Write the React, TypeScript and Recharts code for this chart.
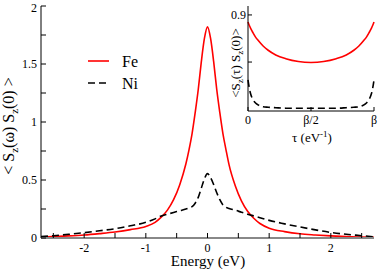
import { LineChart, Line, XAxis, YAxis, CartesianGrid, Legend } from 'recharts'

const FONT = "'Liberation Serif', 'Times New Roman', serif"

// main panel: spectral function vs energy
const energy = [
  -2.7, -2.5, -2.25, -2, -1.75, -1.5, -1.25, -1, -0.85, -0.75, -0.65, -0.55, -0.45, -0.35, -0.3, -0.25, -0.2,
  -0.15, -0.1, -0.05, 0, 0.05, 0.1, 0.15, 0.2, 0.25, 0.3, 0.35, 0.45, 0.55, 0.65, 0.75, 0.85, 1, 1.25, 1.5,
  1.75, 2, 2.25, 2.5, 2.7,
]
const feOmega = [
  0.008, 0.012, 0.018, 0.026, 0.038, 0.052, 0.072, 0.1, 0.135, 0.18, 0.24, 0.33, 0.46, 0.64, 0.76, 0.9, 1.08,
  1.28, 1.52, 1.72, 1.82, 1.72, 1.52, 1.28, 1.08, 0.9, 0.76, 0.63, 0.45, 0.32, 0.23, 0.17, 0.125, 0.085, 0.055,
  0.036, 0.026, 0.018, 0.012, 0.008, 0.005,
]
const niOmega = [
  0.012, 0.02, 0.032, 0.046, 0.062, 0.08, 0.105, 0.135, 0.165, 0.19, 0.205, 0.22, 0.235, 0.25, 0.26, 0.27, 0.3,
  0.35, 0.43, 0.51, 0.555, 0.52, 0.46, 0.39, 0.33, 0.285, 0.265, 0.255, 0.24, 0.222, 0.205, 0.19, 0.175, 0.152,
  0.122, 0.095, 0.07, 0.048, 0.032, 0.02, 0.01,
]
const energyTicks = [-2.5, -2, -1.5, -1, -0.5, 0, 0.5, 1, 1.5, 2, 2.5]
const sTicks = [0, 0.25, 0.5, 0.75, 1, 1.25, 1.5, 1.75, 2]

// inset: imaginary-time correlator
const tau = [0, 0.01, 0.02, 0.04, 0.06, 0.08, 0.12, 0.16, 0.22, 0.3, 0.4, 0.5, 0.6, 0.7, 0.78, 0.84, 0.88, 0.92, 0.94, 0.96, 0.98, 0.99, 1]
const feTau = [
  0.885, 0.878, 0.872, 0.862, 0.853, 0.846, 0.834, 0.825, 0.815, 0.807, 0.801, 0.799, 0.801, 0.807, 0.815,
  0.825, 0.834, 0.846, 0.853, 0.862, 0.872, 0.878, 0.885,
]
const niTau = [
  0.762, 0.745, 0.733, 0.72, 0.713, 0.709, 0.705, 0.704, 0.703, 0.702, 0.702, 0.702, 0.702, 0.702, 0.703,
  0.704, 0.705, 0.709, 0.713, 0.72, 0.733, 0.745, 0.762,
]
const tauTicks = [0, 0.5, 1]
const tauLabels = ['0', 'β/2', 'β']
const insetTicks = [0.8, 0.9]

const series = [
  { key: 'fe', name: 'Fe', color: '#ff0000', dash: undefined },
  { key: 'ni', name: 'Ni', color: '#000000', dash: '7 4' },
]

const mainData = energy.map((e, i) => ({ energy: e, fe: feOmega[i], ni: niOmega[i] }))
const insetData = tau.map((t, i) => ({ tau: t, fe: feTau[i], ni: niTau[i] }))

const fmtEnergy = (v: number) => (Number.isInteger(v) ? String(v) : '')
const fmtS = (v: number) => (v * 2 === Math.round(v * 2) ? String(v) : '')

const MainYLabel = () => (
  <text x={14} y={126} transform="rotate(-90, 14, 126)" textAnchor="middle" fontFamily={FONT} fontSize={16} fill="#000">
    {'< S'}
    <tspan fontSize={11} dy={4}>z</tspan>
    <tspan dy={-4}>{'(ω) S'}</tspan>
    <tspan fontSize={11} dy={4}>z</tspan>
    <tspan dy={-4}>{'(0) >'}</tspan>
  </text>
)

const InsetYLabel = () => (
  <text x={20} y={63} transform="rotate(-90, 20, 63)" textAnchor="middle" fontFamily={FONT} fontSize={13} fill="#000">
    {'<S'}
    <tspan fontSize={9} dy={3}>z</tspan>
    <tspan dy={-3}>{'(τ) S'}</tspan>
    <tspan fontSize={9} dy={3}>z</tspan>
    <tspan dy={-3}>{'(0)>'}</tspan>
  </text>
)

const TauLabel = () => (
  <text x={92} y={142} textAnchor="middle" fontFamily={FONT} fontSize={13} fill="#000">
    {'τ  (eV'}
    <tspan fontSize={9} dy={-5}>-1</tspan>
    <tspan dy={5}>)</tspan>
  </text>
)

const EnergyLabel = () => (
  <text x={208} y={266} textAnchor="middle" fontFamily={FONT} fontSize={15} fill="#000">
    Energy (eV)
  </text>
)

const renderLegend = () => (
  <svg width={110} height={44} style={{ overflow: 'visible', display: 'block' }}>
    {series.map((s, i) => (
      <g key={s.key}>
        <line x1={0} x2={21} y1={6 + 22 * i} y2={6 + 22 * i} stroke={s.color} strokeWidth={1.6} strokeDasharray={s.dash} />
        <text x={34} y={11.5 + 22 * i} fontFamily={FONT} fontSize={16} fill="#000">
          {s.name}
        </text>
      </g>
    ))}
  </svg>
)

const tickStyle = { fontSize: 12, fill: '#000', stroke: 'none', fontFamily: FONT }
const dark = { stroke: '#000' }

export default function App() {
  return (
    <div style={{ position: 'absolute', left: 0, top: 0, width: 382, height: 270, background: '#fff', fontFamily: FONT }}>
      <LineChart width={382} height={270} data={mainData} margin={{ top: 6, right: 8, bottom: 0, left: 0 }}>
        <XAxis
          xAxisId="b"
          dataKey="energy"
          type="number"
          domain={[-2.7, 2.7]}
          allowDataOverflow
          ticks={energyTicks}
          tickFormatter={fmtEnergy}
          tick={tickStyle}
          tickLine={dark}
          tickSize={-5}
          tickMargin={10}
          height={32}
          axisLine={{ stroke: '#888', strokeWidth: 2 }}
          label={<EnergyLabel />}
        />
        <XAxis xAxisId="t" orientation="top" type="number" domain={[-2.7, 2.7]} allowDataOverflow ticks={energyTicks} tick={false} tickLine={dark} axisLine={dark} tickSize={-5} height={0} />
        <YAxis
          yAxisId="l"
          type="number"
          domain={[0, 2]}
          ticks={sTicks}
          tickFormatter={fmtS}
          tick={tickStyle}
          tickLine={dark}
          axisLine={dark}
          tickSize={-5}
          tickMargin={9}
          width={41}
          label={<MainYLabel />}
        />
        <YAxis yAxisId="r" orientation="right" type="number" domain={[0, 2]} ticks={sTicks} tick={false} tickLine={dark} axisLine={dark} tickSize={-5} width={0} />
        <Legend
          content={renderLegend}
          layout="horizontal"
          verticalAlign="middle"
          align="center"
          wrapperStyle={{ position: 'absolute', left: 88, top: 55, width: 110, height: 44 }}
        />
        {series.map((s) => (
          <Line
            key={s.key}
            xAxisId="b"
            yAxisId="l"
            type="monotone"
            dataKey={s.key}
            name={s.name}
            stroke={s.color}
            strokeWidth={1.6}
            strokeDasharray={s.dash}
            dot={false}
            isAnimationActive={false}
          />
        ))}
      </LineChart>
      <div style={{ position: 'absolute', left: 220, top: 0 }}>
        <LineChart width={162} height={145} data={insetData} margin={{ top: 6, right: 8, bottom: 0, left: 0 }}>
          <CartesianGrid xAxisId="b" yAxisId="l" horizontal={false} vertical={false} fill="#fff" fillOpacity={1} />
          <XAxis
            xAxisId="b"
            dataKey="tau"
            type="number"
            domain={[0, 1]}
            ticks={tauTicks}
            tickFormatter={(v: number) => tauLabels[tauTicks.indexOf(v)]}
            tick={tickStyle}
            tickLine={dark}
            axisLine={dark}
            tickSize={-4}
            tickMargin={8.5}
            height={34}
            label={<TauLabel />}
          />
          <XAxis xAxisId="t" orientation="top" type="number" domain={[0, 1]} ticks={tauTicks} tick={false} tickLine={false} axisLine={dark} height={0} />
          <YAxis
            yAxisId="l"
            type="number"
            domain={[0.696, 0.919]}
            allowDataOverflow
            ticks={insetTicks}
            tickFormatter={(v: number) => (v === 0.9 ? '0.9' : '')}
            tick={tickStyle}
            tickLine={dark}
            axisLine={dark}
            tickSize={-4}
            tickMargin={6}
            width={28}
            label={<InsetYLabel />}
          />
          <YAxis yAxisId="r" orientation="right" type="number" domain={[0.696, 0.919]} allowDataOverflow ticks={insetTicks} tick={false} tickLine={dark} axisLine={dark} tickSize={-4} width={0} />
          {series.map((s) => (
            <Line
              key={s.key}
              xAxisId="b"
              yAxisId="l"
              type="monotone"
              dataKey={s.key}
              stroke={s.color}
              strokeWidth={1.6}
              strokeDasharray={s.dash}
              dot={false}
              isAnimationActive={false}
            />
          ))}
        </LineChart>
      </div>
    </div>
  )
}
